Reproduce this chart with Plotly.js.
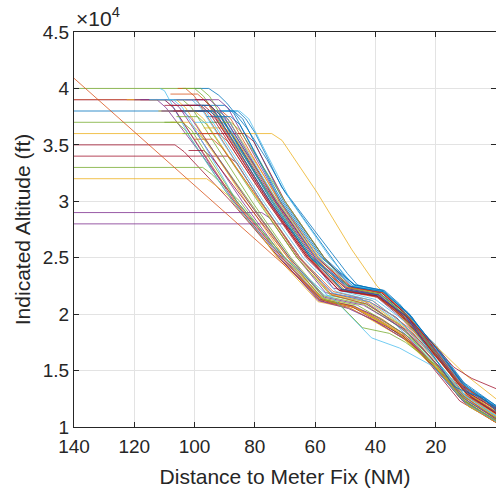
<!DOCTYPE html>
<html>
<head>
<meta charset="utf-8">
<script src="https://cdn.plot.ly/plotly-3.0.1.min.js"></script>
<style>html,body{margin:0;padding:0;background:#fff;overflow:hidden;}#chart{width:496px;height:488px;}</style>
</head>
<body>
<div id="chart"></div>
<script>
// MATLAB default colour order
const palette = ['#0072BD', '#D95319', '#EDB120', '#7E2F8E', '#77AC30', '#4DBEEE', '#A2142F'];

// Axis ticks
const xTickVals = [140, 120, 100, 80, 60, 40, 20, 0];
const xTickText = ['140', '120', '100', '80', '60', '40', '20', '0'];
const yTickVals = [10000, 15000, 20000, 25000, 30000, 35000, 40000, 45000];
const yTickText = ['1', '1.5', '2', '2.5', '3', '3.5', '4', '4.5'];

// Distance to meter fix (NM) for each flight track
const flightDist = [
  [140,100,97,73.5,61,51.5,39.5,31,19,9,0],
  [140,112.5,109.5,86,71,58.5,48,39,29,21,11,0],
  [140,85.7,83,80,75,71.1,60.2,49.3,46,39.3,35.4,28.7,19.8,10,0],
  [140,106,103,87.5,72,58.5,47,40,32,18,8,0],
  [140,74.4,71,59.4,47.8,39.5,33,25,20,10,0],
  [140,106.5,103.5,88,72,58.5,49,41,28,22,12,0],
  [140,89,86,78,65.5,54,42,33,17,11,0],
  [140,97.3,94.3,85,71,58,47,39,30,23,9,0],
  [140,96,93,86.5,72.5,59,48,40,31,19,10,0],
  [140,77.7,75,66,56.5,45,39,29,20,11,0],
  [140,70.8,68,61,54,45,39.5,32,18,8,0],
  [140,57.4,55,50,43,38,31,21,12,0],
  [140,110,107,86.5,71,58.5,47,40,30,22,9,0],
  [111.5,110,101.6,90,78,66,57,45,40,33,19,10,0],
  [105.6,103,100,78,65,54,41,29,21,11,0],
  [100,95.3,92,89.3,82.7,76,70,60,50,46,39,31,20,10,0],
  [122.5,106,103,83,70,58,48,41,33,17,9,0],
  [118,110,107,87,71.5,59,49,40,28,20,11,0],
  [115,104,101,81,68,57,44,31,22,12,0],
  [112,101,98,78,65,54.5,42,30,18,8,0],
  [110,97,94,75.4,62.5,52,39.5,32,21,10,0],
  [108,93,90,72.6,60,50,38.5,29,19,11,0],
  [105,91,88,72,59,48.5,38,31,20,9,0],
  [104,90,87,71,57.5,47.5,37.5,28,22,12,0],
  [100,85,82,68,55,47,37.5,33,19,10,0],
  [110,92,89,71.7,59,49.5,38.5,30,18,8,0],
  [104,98,95,74.3,61.5,51,39,31,21,11,0],
  [98,87,84,70.5,57,47,37.5,29,20,12,0],
  [100,83.4,80.4,70,57,48,38,32,21,9,0],
  [112,100,97,78.7,66,55,42,29,19,10,0],
  [120,108,105,84.2,70.5,58,47,40,30,23,12,0],
  [106,99,96,79,66,55,43,32,18,9,0],
  [103,95,92,73.4,60.5,50.5,39,28,20,10,0],
  [108,99,96,75,62,52,39.5,33,22,11,0],
  [101,92,89,71.6,58.5,49,38.5,31,19,9,0],
  [100,91,88,73,60,50.5,40,30,21,12,0],
  [99,92,89,73,59.5,48.5,38,29,18,10,0],
  [100,95,92,74,61,49,37.5,32,22,11,0],
  [103,95,92,73.1,60,50,39,30,20,8,0],
  [95,88,85,70,57,48.5,38.5,28,19,10,0],
  [99,92,89,72.5,59,47.5,37.5,31,21,12,0],
  [97,90,87,72.5,59.5,50,39.5,33,20,9,0],
  [100,94,91,78.4,65,54.5,43,29,21,11,0],
  [102,97,94,83.1,69,57.5,48,41,31,18,10,0],
  [104,99,96,82,68.5,57,46,39,28,22,12,0],
  [108,102,99,82.4,69,57.5,47,40,33,20,9,0],
  [111,104,101,82.3,68.5,57,44,30,19,11,0],
  [106,97,94,75.1,62,51.5,39,31,22,10,0],
  [100,95,92,75,61.5,49.5,37.5,29,18,9,0],
  [96,88,85,71.5,58,47,37,32,21,11,0],
  [98,92,89,76,62.5,50,37.5,30,19,12,0],
  [109,100,97,77.2,64,53,41,32,20,10,0],
  [107,96,93,75.6,62.5,52,39.5,28,21,9,0],
  [115,107,104,86,70,56,54,41.3,32,21,10,0],
  [110,104,101,86,70,57,52,44.3,35.4,30,20,10,0],
  [108,98,95,76,63,52,39.5,30,20,14,8,0],
  [104,94,91,74.5,61.5,51,39,30,20,14,9,4,0]
];

// Indicated altitude (ft) for each flight track
const flightAlt = [
  [40000,40000,39300,30000,25000,22200,21600,19700,16200,12900,11300],
  [39000,39000,38300,30000,25000,21300,20700,19500,17600,15400,12300,10500],
  [38000,38000,37300,36100,33400,31250,27400,23600,22600,22100,21100,19500,17200,13700,11600],
  [37000,37000,36300,30000,25000,21300,20600,19600,18200,14700,11800,10400],
  [36000,36000,35400,30800,25700,22500,20800,18600,17200,14600,12500],
  [35000,35000,34400,30000,25000,21200,20600,19500,17400,15600,12300,10400],
  [34000,34000,33400,30000,25000,21800,21100,19700,15400,13000,10900],
  [33000,33000,32400,30000,25000,21300,20700,19400,17900,16000,11800,10500],
  [32000,32000,31400,30000,25000,21100,20500,19300,17900,14900,12000,10400],
  [29000,29000,28500,25000,21900,21400,20300,18200,15700,12800,10800],
  [28000,28000,27500,24800,22300,21900,21500,19800,15800,12600,11200],
  [40900,21300,21000,20800,20200,19600,18300,15600,12600,10600],
  [39000,39000,38300,30000,25000,21300,20600,19700,18000,16000,11900,10600],
  [40000,39800,35700,31000,27000,24000,21700,21200,20400,19000,15300,12400,10700],
  [40000,40000,39300,30000,25000,22000,21200,18800,16300,13000,11100],
  [40000,40000,39400,38700,36500,33700,30800,27000,23300,22400,21900,20300,16900,13500,11700],
  [39000,39000,38300,30000,25000,21400,20800,19800,18600,14600,11900,10600],
  [39000,39000,38300,30000,25000,21200,20500,19400,17400,15200,12300,10400],
  [39000,39000,38300,30000,25000,21600,20900,18700,16200,12900,10800],
  [39000,39000,38300,30000,25000,21900,21100,18900,15300,12100,11000],
  [38500,38500,37800,30000,25000,22100,21600,20000,16700,13100,11300],
  [38000,38000,37300,30000,25000,22300,21800,19600,16300,13600,11500],
  [38000,38000,37300,30000,25000,22500,22000,20300,17000,13200,11800],
  [38500,38500,37800,30000,25000,22500,22000,19800,17400,14000,11900],
  [38000,38000,37300,30000,25000,22500,22100,21000,16800,13500,11700],
  [39000,39000,38300,30000,25000,22300,21700,19700,15900,12600,11400],
  [40000,40000,39300,30000,25000,22200,21600,19800,16800,13400,11300],
  [38000,38000,37300,30000,25000,22600,22100,20100,17000,14000,11800],
  [36000,36000,35300,30000,25000,22400,21900,20500,17100,13000,11600],
  [38000,38000,37300,30000,25000,21800,21000,18600,15600,12600,10900],
  [39000,39000,38300,30000,25000,21300,20700,19800,18200,16100,12600,10500],
  [37500,37500,36800,30000,25000,21700,20900,19100,15100,12200,10800],
  [38500,38500,37800,30000,25000,22200,21700,19200,16500,13200,11500],
  [39500,39500,38800,30000,25000,22100,21500,20200,16900,13300,11300],
  [38000,38000,37300,30000,25000,22300,21800,20000,16300,12900,11400],
  [37000,37000,36300,30000,25000,22000,21300,19300,16400,13100,11000],
  [38000,38000,37300,30000,25000,22400,21900,19800,16200,13500,11700],
  [38500,38500,37800,30000,25000,22500,22000,20700,17300,13800,11600],
  [39000,39000,38300,30000,25000,22300,21700,19800,16500,12600,11300],
  [37000,37000,36300,30000,25000,22300,21800,19500,16000,13000,11200],
  [38000,38000,37300,30000,25000,22500,22000,20600,17300,14000,11800],
  [36500,36500,35800,30000,25000,22100,21600,20200,16300,12600,11100],
  [35500,35500,34800,30000,25000,21700,20900,18500,16000,12800,10700],
  [34500,34500,33800,30000,25000,21300,20700,19600,18100,14700,12100,10400],
  [36000,36000,35300,30000,25000,21400,20800,19700,17800,15900,12600,10500],
  [37000,37000,36300,30000,25000,21300,20600,19500,18500,15300,11900,10400],
  [38000,38000,37300,30000,25000,21500,20800,18600,15400,12600,10700],
  [39000,39000,38300,30000,25000,22200,21600,19900,17000,13000,11200],
  [38000,38000,37300,30000,25000,22500,22000,20000,16400,13100,11800],
  [37500,37500,36800,30000,25000,22600,22100,20900,17400,14000,11900],
  [36000,36000,35300,30000,25000,22400,21900,20100,16400,13900,11500],
  [39000,39000,38300,30000,25000,22000,21200,19400,16000,12700,11000],
  [38000,38000,37300,30000,25000,22100,21600,19100,16600,12700,11200],
  [39000,39000,38300,30000,25000,21700,21400,17900,17000,15400,12100,10500],
  [37000,37000,36300,30000,25000,21300,20900,18800,18300,17500,15500,12200,10600],
  [38500,38500,37800,30000,25000,22100,21600,19900,17100,15300,14300,13400],
  [38000,38000,37300,30000,25000,22200,21700,19800,16000,13600,13000,12600,11400]
];

// Colour-order index of each flight track
const flightColor = [4,3,0,4,2,6,6,4,2,3,3,1,1,
  5,1,0,2,3,4,5,6,0,1,0,5,3,4,0,6,2,3,4,6,1,2,5,6,0,3,4,5,2,1,6,4,2,3,6,0,0,1,5,6,
  5,4,6,0];

const traces = flightDist.map((d, i) => ({
  type: 'scatter',
  mode: 'lines',
  x: d,
  y: flightAlt[i],
  line: {color: palette[flightColor[i]], width: 0.9},
  opacity: 0.88,
  hoverinfo: 'skip',
  showlegend: false
}));

const axisFont = {family: 'Liberation Sans, Arial, Helvetica, sans-serif', size: 19, color: '#262626'};
const titleFont = {family: 'Liberation Sans, Arial, Helvetica, sans-serif', size: 21, color: '#262626'};

const layout = {
  width: 496,
  height: 488,
  margin: {l: 74, r: 0, t: 32, b: 61, pad: 0},
  paper_bgcolor: '#ffffff',
  plot_bgcolor: '#ffffff',
  showlegend: false,
  xaxis: {
    range: [140, 0],
    tickvals: xTickVals,
    ticktext: xTickText,
    ticks: 'inside',
    ticklen: 5,
    tickcolor: '#262626',
    showline: true,
    linecolor: '#262626',
    linewidth: 1,
    mirror: 'ticks',
    showgrid: true,
    gridcolor: '#e3e3e3',
    gridwidth: 1,
    zeroline: false,
    tickfont: axisFont,
    ticklabelstandoff: 2,
    automargin: false,
    title: {text: 'Distance to Meter Fix (NM)', font: titleFont, standoff: 14}
  },
  yaxis: {
    range: [10000, 45000],
    tickvals: yTickVals,
    ticktext: yTickText,
    ticks: 'inside',
    ticklen: 5,
    tickcolor: '#262626',
    showline: true,
    linecolor: '#262626',
    linewidth: 1,
    mirror: 'ticks',
    showgrid: true,
    gridcolor: '#e3e3e3',
    gridwidth: 1,
    zeroline: false,
    tickfont: axisFont,
    automargin: false,
    title: {text: 'Indicated Altitude (ft)', font: titleFont, standoff: 6}
  },
  annotations: [{
    xref: 'paper', yref: 'paper', x: 0, y: 1,
    xanchor: 'left', yanchor: 'bottom', yshift: 0,
    showarrow: false,
    text: '\u00d710<sup>4</sup>',
    font: {family: 'Liberation Sans, Arial, Helvetica, sans-serif', size: 21, color: '#262626'}
  }]
};

Plotly.newPlot('chart', traces, layout, {displayModeBar: false, staticPlot: true});
</script>
</body>
</html>
